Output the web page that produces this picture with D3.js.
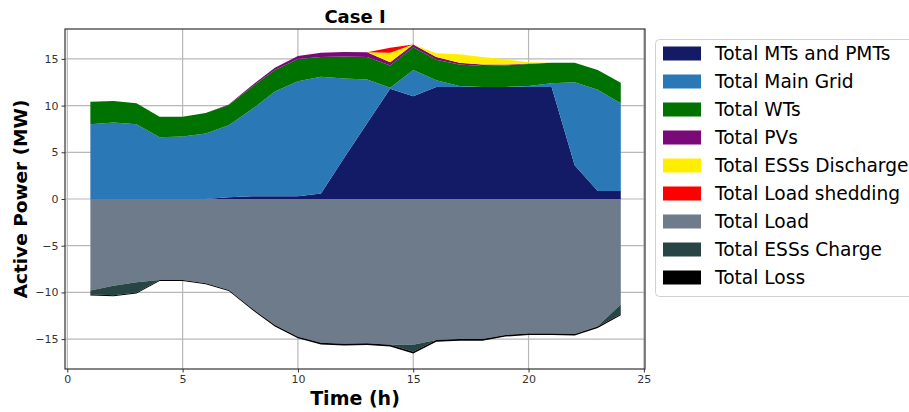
<!DOCTYPE html>
<html>
<head>
<meta charset="utf-8">
<script src="https://cdn.jsdelivr.net/npm/d3@7"></script>
<style>
  body { margin: 0; background: #fff; }
  svg { font-family: "DejaVu Sans", sans-serif; }
</style>
</head>
<body>
<div id="chart"></div>
<script>
const hours = [1,2,3,4,5,6,7,8,9,10,11,12,13,14,15,16,17,18,19,20,21,22,23,24];

// generation side (MW)
const mts      = [0,0,0,0,0,0,0.2,0.3,0.3,0.3,0.6,4.4,8.1,11.8,11.0,12.0,12.0,12.0,12.0,12.0,12.0,3.6,0.86,0.86];
const mainGrid = [8.0,8.2,8.0,6.6,6.7,7.0,7.7,9.3,11.2,12.3,12.5,8.5,4.7,0.1,2.8,0.7,0.1,0.0,0.0,0.1,0.4,8.9,10.84,9.39];
const wts      = [2.4,2.3,2.25,2.2,2.1,2.2,2.16,2.4,2.3,2.4,2.1,2.35,2.4,2.4,2.45,2.2,2.3,2.25,2.3,2.35,2.2,2.1,2.1,2.2];
const pvs      = [0,0,0,0,0,0,0.05,0.15,0.25,0.3,0.45,0.5,0.5,0.35,0.3,0.3,0.2,0.15,0.1,0.05,0,0,0,0];
const essDis   = [0,0,0,0,0,0,0,0,0,0,0,0,0,1.0,0,0.4,0.9,0.8,0.55,0.15,0,0,0,0];
const shedding = [0,0,0,0,0,0,0,0,0,0,0,0,0,0.55,0,0,0,0,0,0,0,0,0,0];

// consumption side (MW, drawn negative)
const load     = [9.8,9.3,8.9,8.67,8.67,9.03,9.74,11.7,13.5,14.74,15.4,15.5,15.45,15.6,15.6,15.1,15.0,15.0,14.56,14.4,14.4,14.45,13.6,11.3];
const essCh    = [0.4,1.0,1.1,0,0,0,0,0,0,0,0,0,0,0,0.75,0,0,0,0,0,0,0,0.05,1.0];
const loss     = [0.12,0.12,0.11,0.1,0.1,0.11,0.12,0.14,0.16,0.18,0.19,0.19,0.19,0.19,0.2,0.19,0.18,0.18,0.17,0.17,0.17,0.17,0.16,0.14];

const seriesNames = ["Total MTs and PMTs","Total Main Grid","Total WTs","Total PVs",
  "Total ESSs Discharge","Total Load shedding","Total Load","Total ESSs Charge","Total Loss"];
const seriesColors = ["#131a66","#2a78b5","#007200","#7a0a78","#ffee00","#ff0000","#6e7b8b","#274545","#000000"];

const xTicks = [0,5,10,15,20,25];
const yTicks = [-15,-10,-5,0,5,10,15];

const W = 909, H = 412;
const plot = { left: 65, right: 645, top: 29, bottom: 369 };

const svg = d3.select("#chart").append("svg")
  .attr("width", W).attr("height", H);

const x = d3.scaleLinear().domain([-0.1, 25.05]).range([plot.left, plot.right]);
const y = d3.scaleLinear().domain([-18.2, 18.2]).range([plot.bottom, plot.top]);

// gridlines
svg.append("g").selectAll("line").data(xTicks).join("line")
  .attr("x1", d => x(d)).attr("x2", d => x(d))
  .attr("y1", plot.top).attr("y2", plot.bottom)
  .attr("stroke", "#b8b8b8").attr("stroke-width", 1.2);
svg.append("g").selectAll("line").data(yTicks).join("line")
  .attr("y1", d => y(d)).attr("y2", d => y(d))
  .attr("x1", plot.left).attr("x2", plot.right)
  .attr("stroke", "#b8b8b8").attr("stroke-width", 1.2);

const rows = hours.map((h, i) => ({
  h,
  mts: mts[i], grid: mainGrid[i], wts: wts[i], pvs: pvs[i], dis: essDis[i], shed: shedding[i],
  load: -load[i], ch: -essCh[i], loss: -loss[i]
}));

const posKeys = ["mts","grid","wts","pvs","dis","shed"];
const negKeys = ["load","ch","loss"];
const posStack = d3.stack().keys(posKeys)(rows);
const negStack = d3.stack().keys(negKeys)(rows);

const area = d3.area()
  .x(d => x(d.data.h))
  .y0(d => y(d[0]))
  .y1(d => y(d[1]));

svg.append("g").selectAll("path").data(posStack).join("path")
  .attr("d", area)
  .attr("fill", (d, i) => seriesColors[i]);

svg.append("g").selectAll("path").data(negStack).join("path")
  .attr("d", area)
  .attr("fill", (d, i) => seriesColors[6 + i]);

// frame
svg.append("rect")
  .attr("x", plot.left).attr("y", plot.top)
  .attr("width", plot.right - plot.left).attr("height", plot.bottom - plot.top)
  .attr("fill", "none").attr("stroke", "#333").attr("stroke-width", 1.2);

// axes
const xAxis = svg.append("g")
  .attr("transform", `translate(0,${plot.bottom})`)
  .call(d3.axisBottom(x).tickValues(xTicks).tickSize(3.5).tickPadding(3));
const yAxis = svg.append("g")
  .attr("transform", `translate(${plot.left},0)`)
  .call(d3.axisLeft(y).tickValues(yTicks).tickSize(3.5).tickPadding(3)
    .tickFormat(d => d < 0 ? "\u2212" + Math.abs(d) : d));
[xAxis, yAxis].forEach(a => {
  a.select(".domain").remove();
  a.selectAll("line").attr("stroke", "#333");
  a.selectAll("text").attr("fill", "#333").style("font-size", "11px")
    .style("font-family", "'DejaVu Sans', sans-serif");
});

// titles
svg.append("text")
  .attr("x", (plot.left + plot.right) / 2).attr("y", 23)
  .attr("text-anchor", "middle")
  .style("font-size", "18px").style("font-weight", "bold")
  .text("Case I");

svg.append("text")
  .attr("x", (plot.left + plot.right) / 2).attr("y", 405)
  .attr("text-anchor", "middle")
  .style("font-size", "19px").style("font-weight", "bold")
  .text("Time (h)");

svg.append("text")
  .attr("transform", `translate(27,${(plot.top + plot.bottom) / 2}) rotate(-90)`)
  .attr("text-anchor", "middle")
  .style("font-size", "18.5px").style("font-weight", "bold")
  .text("Active Power (MW)");

// legend
const legend = svg.append("g");
legend.append("rect")
  .attr("x", 655.5).attr("y", 39.5)
  .attr("width", 260).attr("height", 257)
  .attr("rx", 4)
  .attr("fill", "#fff").attr("stroke", "#d0d0d0");

const item = legend.selectAll("g.item").data(seriesNames).join("g")
  .attr("class", "item")
  .attr("transform", (d, i) => `translate(0,${53.5 + i * 28})`);
item.append("rect")
  .attr("x", 663).attr("y", -7)
  .attr("width", 38).attr("height", 14)
  .attr("fill", (d, i) => seriesColors[i]);
item.append("text")
  .attr("x", 715).attr("dy", "0.36em")
  .style("font-size", "18.6px")
  .text(d => d);
</script>
</body>
</html>
